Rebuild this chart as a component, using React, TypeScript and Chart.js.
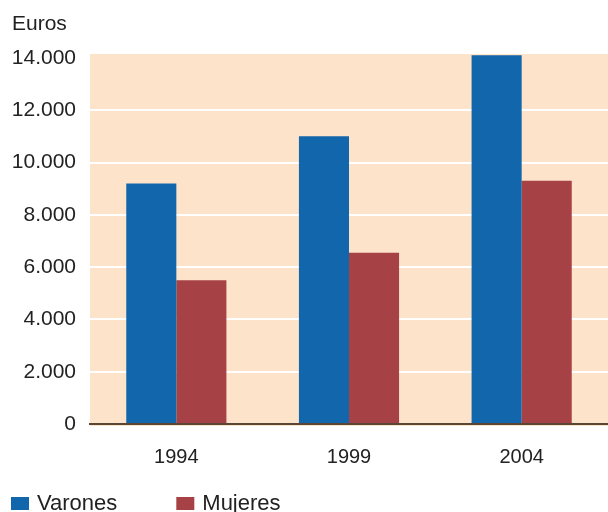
import React, { useEffect, useRef } from "react";
import { Chart, registerables } from "chart.js";

Chart.register(...registerables);

const categories = ["1994", "1999", "2004"];
const varones = [9200, 11000, 14100];
const mujeres = [5500, 6550, 9300];
const seriesNames = ["Varones", "Mujeres"];
const yTicks = [0, 2000, 4000, 6000, 8000, 10000, 12000, 14000];
const unitLabel = "Euros";

const FONT = "'Liberation Sans', Arial, Helvetica, sans-serif";
const BLUE = "#1166ac";
const RED = "#a64146";
const PEACH = "#fde3c9";
const TEXT = "#222222";

function fmt(v: number): string {
  if (v < 1000) return String(v);
  const th = Math.floor(v / 1000);
  const rest = String(v % 1000).padStart(3, "0");
  return th + "." + rest;
}

const bgPlugin = {
  id: "plotBg",
  beforeDraw(chart: any) {
    const { ctx, chartArea } = chart;
    ctx.save();
    ctx.fillStyle = PEACH;
    ctx.fillRect(chartArea.left, chartArea.top, chartArea.right - chartArea.left, chartArea.bottom - chartArea.top + 2);
    ctx.restore();
  },
};

const legendPlugin = {
  id: "customLegend",
  afterDraw(chart: any) {
    const { ctx } = chart;
    ctx.save();
    ctx.font = `22px ${FONT}`;
    ctx.textBaseline = "alphabetic";
    ctx.textAlign = "left";
    let x = 11;
    chart.data.datasets.forEach((ds: any) => {
      ctx.fillStyle = ds.backgroundColor;
      ctx.fillRect(x, 497, 18, 13);
      ctx.fillStyle = TEXT;
      ctx.fillText(ds.label, x + 26, 510);
      const w = ctx.measureText(ds.label).width;
      x = x + 26 + w + 59;
    });
    ctx.restore();
  },
};

export default function App() {
  const ref = useRef<HTMLCanvasElement | null>(null);
  useEffect(() => {
    if (!ref.current) return;
    const chart = new Chart(ref.current, {
      type: "bar",
      data: {
        labels: categories,
        datasets: [
          { label: seriesNames[0], data: varones, backgroundColor: BLUE, borderWidth: 0 },
          { label: seriesNames[1], data: mujeres, backgroundColor: RED, borderWidth: 0 },
        ],
      },
      plugins: [bgPlugin, legendPlugin],
      options: {
        animation: false,
        responsive: false,
        maintainAspectRatio: false,
        layout: { padding: { left: 12, right: 0, top: 0, bottom: 40 } },
        plugins: {
          legend: { display: false },
          tooltip: { enabled: false },
          title: {
            display: true,
            text: unitLabel,
            align: "start",
            color: TEXT,
            font: { family: FONT, size: 21, weight: "normal" },
            padding: { top: 12, bottom: 16.8 },
          },
        },
        datasets: {
          bar: { categoryPercentage: 0.58, barPercentage: 1 },
        },
        scales: {
          x: {
            grid: { display: false, drawTicks: false },
            border: { display: true, color: "#5a4636", width: 2 },
            ticks: {
              color: TEXT,
              font: { family: FONT, size: 20 },
              padding: 21,
            },
            afterFit(scale: any) {
              scale.height = 48;
            },
          },
          y: {
            min: 0,
            max: 14150,
            afterBuildTicks(scale: any) {
              scale.ticks = yTicks.map((v) => ({ value: v }));
            },
            grid: {
              drawTicks: false,
              lineWidth: 2,
              color: (c: any) => (c.tick && (c.tick.value === 14000 || c.tick.value === 0) ? "rgba(0,0,0,0)" : "#ffffff"),
            },
            border: { display: false },
            ticks: {
              color: TEXT,
              font: { family: FONT, size: 21 },
              padding: 14,
              callback: (v: any) => fmt(Number(v)),
            },
            afterFit(scale: any) {
              scale.width = 78;
            },
          },
        },
      },
    } as any);
    return () => chart.destroy();
  }, []);
  return (
    <div style={{ position: "absolute", left: 0, top: 0, width: 608, height: 512, background: "#fff" }}>
      <canvas ref={ref} width={608} height={512} style={{ width: 608, height: 512, display: "block" }} />
    </div>
  );
}
